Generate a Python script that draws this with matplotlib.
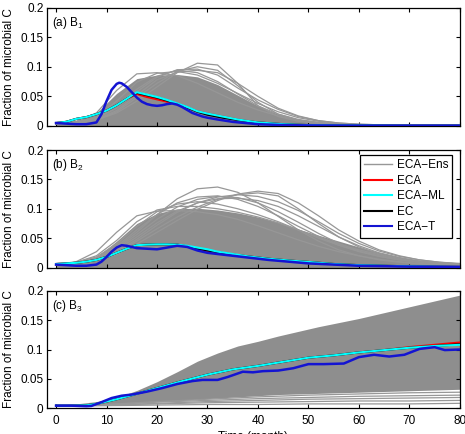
import matplotlib
matplotlib.use("Agg")
import matplotlib.pyplot as plt
from matplotlib.lines import Line2D

plt.rcParams['font.family'] = ['Liberation Sans', 'DejaVu Sans']
plt.rcParams['mathtext.fontset'] = 'custom'
plt.rcParams['mathtext.rm'] = 'Liberation Sans'
plt.rcParams['mathtext.default'] = 'regular'
plt.rcParams['font.size'] = 8.5

# ---------------- data ----------------
panel_labels = ["(a) B$_1$", "(b) B$_2$", "(c) B$_3$"]
legend_labels = ["ECA\u2212Ens", "ECA", "ECA\u2212ML", "EC", "ECA\u2212T"]
x_ticks = [0, 10, 20, 30, 40, 50, 60, 70, 80]
y_ticks = [0, 0.05, 0.1, 0.15, 0.2]
y_tick_labels = ["0", "0.05", "0.1", "0.15", "0.2"]

# ensemble time grid (months)
t_ens = [0, 4, 8, 12, 16, 20, 24, 28, 32, 36, 40, 44, 48, 52, 56, 60, 64, 68, 72, 76, 80]

# ---- panel (a) B1 ----
ens1_hi = [0.004, 0.009, 0.022, 0.055, 0.080, 0.086, 0.087, 0.083, 0.070, 0.052, 0.034,
           0.020, 0.011, 0.006, 0.004, 0.002, 0.0015, 0.001, 0.001, 0.001, 0.001]
ens1_lo = [0.0] * 21
ens1_curves = [
    [0.003, 0.005, 0.010, 0.022, 0.042, 0.066, 0.090, 0.106, 0.103, 0.072, 0.034,
     0.016, 0.008, 0.004, 0.002, 0.001, 0.001, 0.001, 0.001, 0.001, 0.001],
    [0.003, 0.005, 0.010, 0.024, 0.048, 0.072, 0.092, 0.100, 0.094, 0.068, 0.040,
     0.020, 0.010, 0.005, 0.003, 0.002, 0.001, 0.001, 0.001, 0.001, 0.001],
    [0.003, 0.006, 0.014, 0.035, 0.062, 0.084, 0.094, 0.090, 0.075, 0.054, 0.034,
     0.020, 0.011, 0.006, 0.003, 0.002, 0.001, 0.001, 0.001, 0.001, 0.001],
    [0.004, 0.008, 0.022, 0.060, 0.088, 0.090, 0.085, 0.072, 0.056, 0.040, 0.027,
     0.017, 0.010, 0.006, 0.003, 0.002, 0.001, 0.001, 0.001, 0.001, 0.001],
    [0.003, 0.006, 0.013, 0.030, 0.058, 0.082, 0.095, 0.096, 0.086, 0.064, 0.044,
     0.028, 0.016, 0.009, 0.005, 0.003, 0.002, 0.001, 0.001, 0.001, 0.001],
    [0.003, 0.005, 0.011, 0.026, 0.052, 0.078, 0.091, 0.094, 0.090, 0.072, 0.050,
     0.030, 0.017, 0.009, 0.005, 0.003, 0.002, 0.001, 0.001, 0.001, 0.001],
    [0.003, 0.006, 0.015, 0.042, 0.074, 0.089, 0.092, 0.086, 0.072, 0.055, 0.038,
     0.024, 0.014, 0.008, 0.004, 0.002, 0.001, 0.001, 0.001, 0.001, 0.001],
]
t_k1 = [0, 2, 4, 6, 8, 10, 12, 14, 16, 18, 20, 22, 24, 26, 28, 30, 33, 36, 40, 45, 50, 55, 60, 70, 80]
eca1 = [0.005, 0.007, 0.012, 0.015, 0.020, 0.026, 0.035, 0.046, 0.054, 0.049, 0.045, 0.041,
        0.037, 0.031, 0.025, 0.021, 0.016, 0.011, 0.006, 0.003, 0.0015, 0.001, 0.0008, 0.0005, 0.0005]
ecaml1 = [0.005, 0.007, 0.012, 0.015, 0.020, 0.026, 0.035, 0.046, 0.057, 0.053, 0.049, 0.044,
          0.038, 0.032, 0.025, 0.021, 0.016, 0.011, 0.006, 0.003, 0.0015, 0.001, 0.0008, 0.0005, 0.0005]
ec1 = [0.005, 0.007, 0.012, 0.015, 0.020, 0.026, 0.035, 0.046, 0.056, 0.052, 0.048, 0.043,
       0.037, 0.031, 0.024, 0.019, 0.014, 0.010, 0.006, 0.003, 0.0015, 0.001, 0.0008, 0.0005, 0.0005]
t_b1 = [0, 2, 4, 6, 8, 9, 10, 11, 12, 12.5, 13, 14, 15, 16, 17, 18, 19, 20, 21, 22, 23, 24,
        25, 26, 27, 28, 29, 30, 32, 35, 40, 45, 50, 60, 70, 80]
ecat1 = [0.005, 0.004, 0.003, 0.003, 0.006, 0.020, 0.042, 0.061, 0.071, 0.073, 0.072, 0.066,
         0.057, 0.048, 0.041, 0.037, 0.035, 0.034, 0.035, 0.037, 0.038, 0.036, 0.032, 0.027,
         0.022, 0.019, 0.016, 0.014, 0.011, 0.007, 0.003, 0.0015, 0.001, 0.0005, 0.0005, 0.0005]

# ---- panel (b) B2 ----
ens2_hi = [0.005, 0.009, 0.018, 0.045, 0.075, 0.092, 0.100, 0.101, 0.098, 0.093, 0.086,
           0.077, 0.065, 0.055, 0.045, 0.035, 0.026, 0.018, 0.012, 0.008, 0.006]
ens2_lo = [0.0] * 21
ens2_curves = [
    [0.005, 0.008, 0.016, 0.034, 0.060, 0.090, 0.117, 0.134, 0.137, 0.128, 0.110,
     0.087, 0.064, 0.045, 0.030, 0.020, 0.013, 0.009, 0.006, 0.004, 0.003],
    [0.005, 0.010, 0.027, 0.060, 0.088, 0.096, 0.097, 0.095, 0.090, 0.082, 0.071,
     0.059, 0.047, 0.036, 0.027, 0.020, 0.014, 0.010, 0.007, 0.005, 0.004],
    [0.004, 0.007, 0.012, 0.022, 0.040, 0.060, 0.080, 0.099, 0.114, 0.125, 0.130,
     0.126, 0.110, 0.088, 0.064, 0.045, 0.030, 0.020, 0.013, 0.009, 0.007],
    [0.004, 0.007, 0.013, 0.026, 0.045, 0.066, 0.086, 0.103, 0.116, 0.124, 0.127,
     0.122, 0.100, 0.075, 0.052, 0.035, 0.023, 0.015, 0.010, 0.007, 0.005],
    [0.005, 0.008, 0.015, 0.032, 0.056, 0.082, 0.103, 0.116, 0.121, 0.119, 0.110,
     0.095, 0.077, 0.058, 0.041, 0.028, 0.019, 0.013, 0.009, 0.006, 0.004],
    [0.005, 0.008, 0.015, 0.030, 0.052, 0.076, 0.096, 0.110, 0.117, 0.118, 0.114,
     0.104, 0.088, 0.070, 0.052, 0.037, 0.025, 0.017, 0.011, 0.008, 0.006],
    [0.005, 0.009, 0.018, 0.040, 0.070, 0.095, 0.108, 0.112, 0.108, 0.100, 0.090,
     0.078, 0.064, 0.050, 0.038, 0.028, 0.020, 0.014, 0.010, 0.007, 0.005],
    [0.005, 0.008, 0.016, 0.036, 0.064, 0.090, 0.110, 0.120, 0.122, 0.116, 0.104,
     0.088, 0.070, 0.053, 0.038, 0.027, 0.019, 0.013, 0.009, 0.006, 0.004],
    [0.004, 0.007, 0.013, 0.027, 0.048, 0.072, 0.094, 0.110, 0.120, 0.124, 0.121,
     0.112, 0.097, 0.078, 0.058, 0.041, 0.028, 0.019, 0.013, 0.009, 0.006],
    [0.005, 0.009, 0.020, 0.046, 0.078, 0.098, 0.104, 0.104, 0.100, 0.094, 0.086,
     0.076, 0.064, 0.052, 0.040, 0.030, 0.022, 0.015, 0.010, 0.007, 0.005],
]
t_k2 = [0, 2, 4, 6, 8, 10, 12, 14, 16, 18, 20, 22, 24, 26, 28, 30, 32, 35, 38, 42, 46, 50, 55, 60, 65, 70, 80]
eca2 = [0.006, 0.007, 0.008, 0.010, 0.013, 0.018, 0.025, 0.032, 0.038, 0.039, 0.0395, 0.0395,
        0.039, 0.036, 0.031, 0.028, 0.026, 0.022, 0.019, 0.015, 0.012, 0.0095, 0.006, 0.004,
        0.003, 0.002, 0.001]
ecaml2 = [0.006, 0.007, 0.008, 0.010, 0.013, 0.018, 0.025, 0.032, 0.038, 0.039, 0.0395, 0.0395,
          0.039, 0.037, 0.034, 0.031, 0.027, 0.023, 0.019, 0.015, 0.012, 0.0095, 0.006, 0.004,
          0.003, 0.002, 0.001]
ec2 = [0.006, 0.007, 0.008, 0.010, 0.013, 0.018, 0.025, 0.032, 0.038, 0.039, 0.0395, 0.0395,
       0.039, 0.036, 0.032, 0.029, 0.026, 0.022, 0.019, 0.015, 0.012, 0.0095, 0.006, 0.004,
       0.003, 0.002, 0.001]
t_b2 = [0, 2, 4, 6, 8, 9, 10, 11, 12, 13, 14, 15, 16, 18, 20, 22, 24, 26, 28, 30, 34, 38,
        42, 46, 50, 55, 60, 70, 80]
ecat2 = [0.005, 0.004, 0.003, 0.003, 0.005, 0.010, 0.018, 0.027, 0.034, 0.038, 0.037, 0.035,
         0.033, 0.032, 0.031, 0.034, 0.037, 0.035, 0.029, 0.025, 0.021, 0.017, 0.013, 0.010,
         0.007, 0.005, 0.003, 0.0015, 0.001]

# ---- panel (c) B3 ----
ens3_hi = [0.005, 0.007, 0.011, 0.018, 0.030, 0.045, 0.062, 0.080, 0.094, 0.106, 0.114,
           0.123, 0.131, 0.139, 0.146, 0.153, 0.161, 0.169, 0.177, 0.185, 0.193]
ens3_lo = [0.003, 0.004, 0.005, 0.007, 0.009, 0.011, 0.013, 0.015, 0.017, 0.019, 0.021,
           0.023, 0.024, 0.025, 0.026, 0.027, 0.028, 0.029, 0.030, 0.031, 0.032]
t_low = [0, 10, 20, 30, 40, 50, 60, 70, 80]
ens3_curves = [
    [0.003, 0.004, 0.005, 0.006, 0.006, 0.007, 0.007, 0.007, 0.008],
    [0.003, 0.005, 0.007, 0.009, 0.010, 0.011, 0.012, 0.012, 0.013],
    [0.003, 0.005, 0.008, 0.011, 0.013, 0.015, 0.016, 0.017, 0.018],
    [0.003, 0.006, 0.010, 0.013, 0.016, 0.018, 0.020, 0.021, 0.022],
    [0.003, 0.006, 0.011, 0.015, 0.019, 0.022, 0.024, 0.026, 0.027],
]
t_k3 = [0, 3, 6, 8, 10, 12, 15, 20, 25, 30, 35, 40, 45, 50, 55, 60, 65, 70, 75, 80]
eca3 = [0.004, 0.004, 0.0045, 0.007, 0.011, 0.015, 0.022, 0.034, 0.046, 0.057, 0.066, 0.072,
        0.079, 0.086, 0.090, 0.095, 0.099, 0.104, 0.108, 0.112]
ecaml3 = [0.004, 0.004, 0.0045, 0.007, 0.011, 0.015, 0.022, 0.034, 0.046, 0.057, 0.066, 0.072,
          0.079, 0.086, 0.090, 0.095, 0.099, 0.103, 0.106, 0.108]
ec3 = [0.004, 0.004, 0.0045, 0.007, 0.011, 0.015, 0.022, 0.034, 0.046, 0.057, 0.066, 0.072,
       0.079, 0.086, 0.090, 0.095, 0.099, 0.103, 0.106, 0.109]
t_b3 = [0, 3, 6, 7, 9, 11, 13, 15, 18, 21, 24, 27, 29, 32, 34, 37, 39, 41, 44, 47, 50, 53,
        57, 60, 63, 66, 69, 72, 75, 77, 80]
ecat3 = [0.004, 0.004, 0.003, 0.0035, 0.010, 0.017, 0.021, 0.023, 0.028, 0.034, 0.041, 0.046,
         0.048, 0.048, 0.053, 0.062, 0.061, 0.063, 0.064, 0.068, 0.075, 0.075, 0.076, 0.087,
         0.091, 0.088, 0.091, 0.101, 0.104, 0.099, 0.100]

panels = [
    (t_ens, ens1_lo, ens1_hi, t_ens, ens1_curves, t_k1, eca1, ecaml1, ec1, t_b1, ecat1),
    (t_ens, ens2_lo, ens2_hi, t_ens, ens2_curves, t_k2, eca2, ecaml2, ec2, t_b2, ecat2),
    (t_ens, ens3_lo, ens3_hi, t_low, ens3_curves, t_k3, eca3, ecaml3, ec3, t_b3, ecat3),
]

# ---------------- style ----------------
c_fill = '#8e8e8e'
c_ens = '#979797'
c_eca = '#ff0000'
c_ml = '#00ffff'
c_ec = '#000000'
c_t = '#1414d2'

fig = plt.figure(figsize=(4.65, 4.34), dpi=100)
positions = [[0.101, 0.7097, 0.888, 0.273],
             [0.101, 0.3836, 0.888, 0.2707],
             [0.101, 0.0599, 0.888, 0.2696]]

axes = []
for i, (pos, p) in enumerate(zip(positions, panels)):
    te, lo, hi, tc, curves, tk, eca, ml, ec, tb, ecat = p
    ax = fig.add_axes(pos)
    axes.append(ax)
    ax.fill_between(te, lo, hi, color=c_fill, lw=0, zorder=1)
    for cv in curves:
        ax.plot(tc, cv, color=c_ens, lw=0.9, zorder=2)
    ax.plot(tk, eca, color=c_eca, lw=1.5, zorder=3)
    ax.plot(tk, ec, color=c_ec, lw=1.5, zorder=4)
    ax.plot(tk, ml, color=c_ml, lw=1.5, zorder=5)
    ax.plot(tb, ecat, color=c_t, lw=1.8, zorder=6)

    ax.set_xlim(-1.8, 80)
    ax.set_ylim(0, 0.2)
    ax.set_xticks(x_ticks)
    ax.set_yticks(y_ticks)
    ax.set_yticklabels(y_tick_labels)
    ax.tick_params(direction='in', top=True, right=True, length=3, width=0.8,
                   labelsize=8.5, colors='black')
    ax.tick_params(axis='y', pad=2.5)
    ax.tick_params(axis='x', pad=5)
    if i < 2:
        ax.tick_params(labelbottom=False)
    for s in ax.spines.values():
        s.set_linewidth(0.9)
    ax.set_ylabel("Fraction of microbial C", fontsize=8.5, labelpad=4)
    ax.text(0.012, 0.845, panel_labels[i], transform=ax.transAxes, fontsize=8.5,
            va='baseline', ha='left')

axes[2].set_xlabel("Time (month)", fontsize=8.5, labelpad=3)

handles = [Line2D([], [], color=c_ens, lw=1.0),
           Line2D([], [], color=c_eca, lw=1.5),
           Line2D([], [], color=c_ml, lw=1.5),
           Line2D([], [], color=c_ec, lw=1.5),
           Line2D([], [], color=c_t, lw=1.5)]
leg = axes[1].legend(handles, legend_labels, loc='upper right',
                     bbox_to_anchor=(0.982, 0.957), borderaxespad=0,
                     fontsize=8.5, handlelength=2.4, handletextpad=0.4,
                     labelspacing=0.3, borderpad=0.35, fancybox=False,
                     framealpha=1, edgecolor='black')
leg.get_frame().set_linewidth(0.9)

fig.savefig("out.png", dpi=100)
